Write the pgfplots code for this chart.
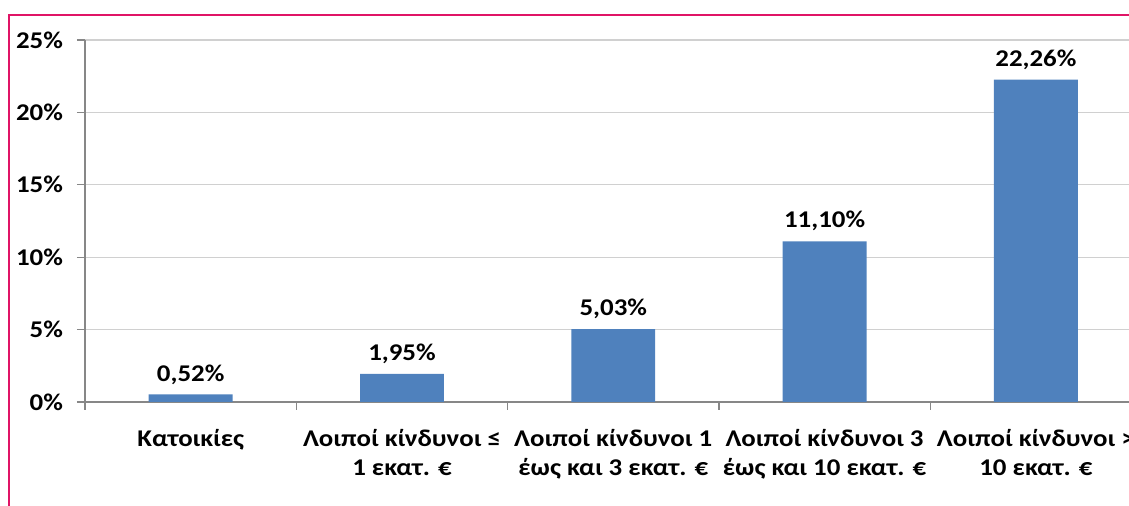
\documentclass[border=0pt]{standalone}
\usepackage{fontspec}
\setmainfont{Carlito}[FakeStretch=1.12]
\usepackage{pgfplots}
\pgfplotsset{compat=1.18}
\pgfkeys{/pgf/number format/assume math mode=true}
\definecolor{barblue}{HTML}{4F81BD}
\definecolor{framec}{HTML}{E01466}
\definecolor{axgray}{HTML}{878787}
\definecolor{gridgray}{HTML}{D0D0D0}

\begin{document}
\begin{tikzpicture}[x=0.75pt,y=0.75pt]
\begin{axis}[
  at={(0,0)},anchor=south west,
  width=792.4pt,height=271.5pt,scale only axis,
  xmin=-0.5,xmax=4.5,ymin=0,ymax=25,
  axis lines*=left,
  axis line style={axgray,line width=1pt},
  ymajorgrids,grid style={gridgray,line width=0.8pt},
  ytick={0,5,10,15,20,25},
  yticklabel={\pgfmathprintnumber{\tick}\%},
  tick align=outside,
  major tick length=6pt,minor tick length=6pt,
  tick style={axgray,line width=1pt},
  xtick={0,1,2,3,4},
  major x tick style={draw=none},
  minor xtick={-0.5,0.5,1.5,2.5,3.5,4.5},
  xticklabels={{Κατοικίες},{Λοιποί κίνδυνοι ≤\\1 εκατ. €},{Λοιποί κίνδυνοι 1\\έως και 3 εκατ. €},{Λοιποί κίνδυνοι 3\\έως και 10 εκατ. €},{Λοιποί κίνδυνοι >\\10 εκατ. €}},
  xticklabel style={align=center,anchor=north,font=\bfseries\fontsize{18}{22}\selectfont,yshift=-11pt},
  yticklabel style={anchor=east,font=\bfseries\fontsize{18}{21.5}\selectfont,xshift=-7pt},
  ybar,bar width=0.397,
  nodes near coords={\pgfmathprintnumber[fixed,fixed zerofill,precision=2,use comma]{\pgfplotspointmeta}\%},
  nodes near coords style={anchor=south,font=\bfseries\fontsize{18}{21.5}\selectfont,yshift=4pt},
  clip=false,
]
\addplot[fill=barblue,draw=none] coordinates {(0,0.52) (1,1.95) (2,5.03) (3,11.10) (4,22.26)};
\end{axis}
\draw[framec,line width=1.5pt] (-76,-120) -- (-76,387) -- (1060,387);
\pgfresetboundingbox
\useasboundingbox (-85,-104) rectangle (1044,402);
\end{tikzpicture}
\end{document}
